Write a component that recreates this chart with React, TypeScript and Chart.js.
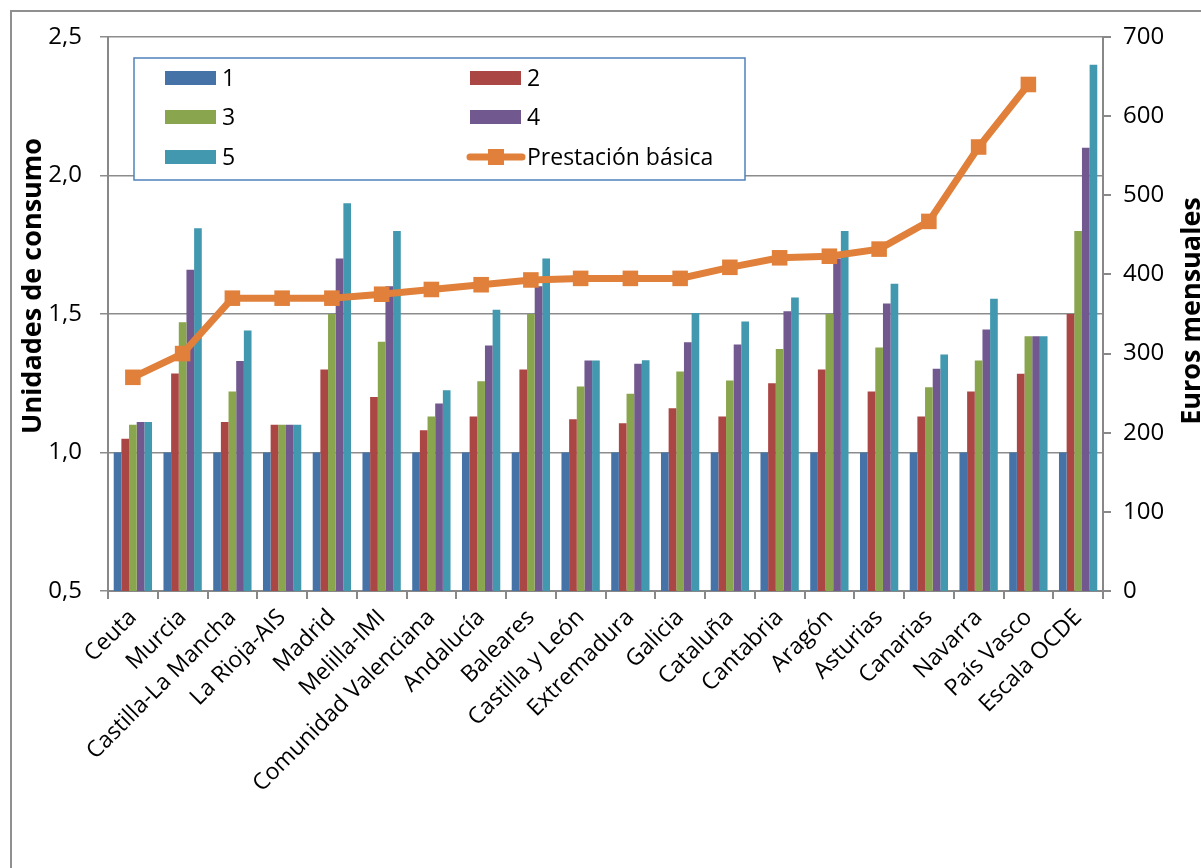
import React, { useEffect, useRef } from "react";
import { Chart, registerables } from "chart.js";

Chart.register(...registerables);

const categories = [
  "Ceuta", "Murcia", "Castilla-La Mancha", "La Rioja-AIS", "Madrid", "Melilla-IMI",
  "Comunidad Valenciana", "Andalucía", "Baleares", "Castilla y León", "Extremadura",
  "Galicia", "Cataluña", "Cantabria", "Aragón", "Asturias", "Canarias", "Navarra",
  "País Vasco", "Escala OCDE",
];

const serie1 = [1, 1, 1, 1, 1, 1, 1, 1, 1, 1, 1, 1, 1, 1, 1, 1, 1, 1, 1, 1];
const serie2 = [1.05, 1.285, 1.11, 1.1, 1.3, 1.2, 1.08, 1.13, 1.3, 1.12, 1.106, 1.16, 1.13, 1.25, 1.3, 1.22, 1.13, 1.22, 1.284, 1.5];
const serie3 = [1.1, 1.47, 1.22, 1.1, 1.5, 1.4, 1.13, 1.257, 1.5, 1.238, 1.212, 1.292, 1.26, 1.374, 1.5, 1.379, 1.236, 1.332, 1.42, 1.8];
const serie4 = [1.11, 1.66, 1.33, 1.1, 1.7, 1.6, 1.177, 1.386, 1.6, 1.332, 1.32, 1.398, 1.39, 1.51, 1.7, 1.538, 1.302, 1.444, 1.42, 2.1];
const serie5 = [1.11, 1.81, 1.44, 1.1, 1.9, 1.8, 1.225, 1.515, 1.7, 1.332, 1.333, 1.504, 1.473, 1.56, 1.8, 1.609, 1.354, 1.555, 1.42, 2.4];
const prestacion = [270, 300, 370, 370, 370, 375, 381, 387, 393, 395, 395, 395, 409, 421, 423, 432, 467, 561, 640, null];

const leftTicks = [0.5, 1.0, 1.5, 2.0, 2.5];
const rightTicks = [0, 100, 200, 300, 400, 500, 600, 700];

const seriesNames = ["1", "2", "3", "4", "5"];
const lineName = "Prestación básica";
const leftTitle = "Unidades de consumo";
const rightTitle = "Euros mensuales";

const barColors = ["#4572A7", "#AA4643", "#89A54E", "#71588F", "#4198AF"];
const lineColor = "#E0803A";
const FONT = "'Open Sans', sans-serif";

const legendPlugin = {
  id: "boxedLegend",
  afterDraw(chart: any) {
    const ctx = chart.ctx;
    ctx.save();
    const bx = 134, by = 58, bw = 611, bh = 122;
    ctx.fillStyle = "#ffffff";
    ctx.fillRect(bx, by, bw, bh);
    ctx.strokeStyle = "#4F81BD";
    ctx.lineWidth = 1.5;
    ctx.strokeRect(bx, by, bw, bh);
    const ds = chart.data.datasets;
    const colX = [165, 470];
    const rowY = [78, 117, 157];
    ctx.font = "23px " + FONT;
    ctx.textBaseline = "middle";
    ctx.textAlign = "left";
    ds.forEach((d: any, i: number) => {
      const col = i % 2;
      const row = Math.floor(i / 2);
      const x = colX[col];
      const y = rowY[row];
      if (d.type === "line") {
        ctx.strokeStyle = d.borderColor;
        ctx.lineWidth = 7;
        ctx.lineCap = "round";
        ctx.beginPath();
        ctx.moveTo(x, y);
        ctx.lineTo(x + 52, y);
        ctx.stroke();
        ctx.fillStyle = d.borderColor;
        ctx.fillRect(x + 26 - 8, y - 8, 16, 16);
      } else {
        ctx.fillStyle = d.backgroundColor;
        ctx.fillRect(x, y - 7, 51, 14);
      }
      ctx.fillStyle = "#000";
      ctx.fillText(d.label, x + 57, y + 1);
    });

    // axis titles
    ctx.font = "bold 27px " + FONT;
    ctx.fillStyle = "#000";
    ctx.textAlign = "center";
    ctx.textBaseline = "middle";
    ctx.save();
    ctx.translate(33, 286);
    ctx.rotate(-Math.PI / 2);
    ctx.fillText(leftTitle, 0, 0);
    ctx.restore();
    ctx.save();
    ctx.translate(1192, 311);
    ctx.rotate(-Math.PI / 2);
    ctx.fillText(rightTitle, 0, 0);
    ctx.restore();
    ctx.restore();
  },
};

export default function App() {
  const ref = useRef<HTMLCanvasElement | null>(null);
  useEffect(() => {
    if (!ref.current) return;
    const barSeries = [serie1, serie2, serie3, serie4, serie5];
    const datasets: any[] = barSeries.map((s, i) => ({
      type: "bar",
      label: seriesNames[i],
      data: s,
      backgroundColor: barColors[i],
      borderWidth: 0,
      yAxisID: "y",
      barPercentage: 1.0,
      categoryPercentage: 0.77,
      order: 2,
    }));
    datasets.push({
      type: "line",
      label: lineName,
      data: prestacion,
      borderColor: lineColor,
      backgroundColor: lineColor,
      borderWidth: 7,
      pointStyle: "rect",
      pointRadius: 11,
      pointBorderWidth: 0,
      pointBackgroundColor: lineColor,
      yAxisID: "y1",
      order: 1,
      spanGaps: false,
    });
    const chart = new Chart(ref.current, {
      type: "bar",
      data: { labels: categories, datasets },
      plugins: [legendPlugin],
      options: {
        responsive: false,
        animation: false,
        layout: { padding: { top: 37, left: 0, right: 0, bottom: 0 } },
        plugins: { legend: { display: false }, tooltip: { enabled: false } },
        scales: {
          x: {
            afterFit: (s: any) => { s.height = 868 - 591; },
            grid: { drawOnChartArea: false, drawTicks: true, tickLength: 8, color: "#888", lineWidth: 2, offset: true },
            border: { display: true, color: "#888", width: 2 },
            ticks: {
              autoSkip: false,
              maxRotation: 45,
              minRotation: 45,
              padding: 5,
              color: "#000",
              font: { family: FONT, size: 23 },
            },
          },
          y: {
            position: "left",
            min: 0.5,
            max: 2.5,
            afterFit: (s: any) => { s.width = 108; },
            afterBuildTicks: (s: any) => { s.ticks = leftTicks.map((v) => ({ value: v })); },
            grid: { color: "#8c8c8c", lineWidth: 1.5, tickLength: 8, drawTicks: true },
            border: { display: true, color: "#888", width: 2 },
            ticks: {
              padding: 18,
              color: "#000",
              font: { family: FONT, size: 24 },
              callback: (v: any) => Number(v).toFixed(1).replace(".", ","),
            },
            title: { display: false },
          },
          y1: {
            position: "right",
            min: 0,
            max: 700,
            afterFit: (s: any) => { s.width = 1201 - 1103; },
            afterBuildTicks: (s: any) => { s.ticks = rightTicks.map((v) => ({ value: v })); },
            grid: { drawOnChartArea: false, drawTicks: true, tickLength: 8, color: "#888", lineWidth: 2 },
            border: { display: true, color: "#888", width: 2 },
            ticks: {
              padding: 12,
              color: "#000",
              font: { family: FONT, size: 24 },
            },
            title: { display: false },
          },
        },
      },
    } as any);
    return () => chart.destroy();
  }, []);

  return (
    <div style={{ position: "absolute", left: 0, top: 0, width: 1201, height: 868, overflow: "hidden", background: "#fff" }}>
      <div
        style={{
          position: "absolute",
          left: 10,
          top: 10,
          width: 1220,
          height: 900,
          border: "2px solid #909090",
          boxSizing: "border-box",
        }}
      />
      <canvas ref={ref} width={1201} height={868} style={{ position: "absolute", left: 0, top: 0 }} />
    </div>
  );
}
